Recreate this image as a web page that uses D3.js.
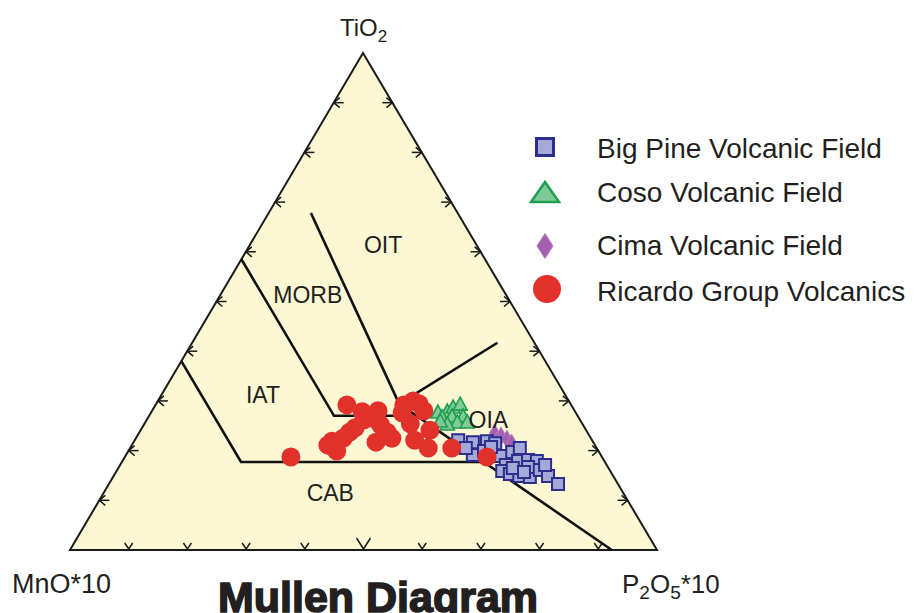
<!DOCTYPE html>
<html>
<head>
<meta charset="utf-8">
<script src="https://cdn.jsdelivr.net/npm/d3@7"></script>
<style>
  html, body { margin: 0; padding: 0; background: #ffffff; }
  svg { display: block; }
  text { font-family: "Liberation Sans", Arial, sans-serif; fill: #231f20; }
</style>
</head>
<body>
<svg id="chart" width="917" height="613"></svg>
<script>
// Mullen (1983) TiO2 – MnO*10 – P2O5*10 discrimination diagram.
// Every composition is [TiO2, MnO*10, P2O5*10] in percent of the ternary sum.

const components = ["TiO2", "MnO*10", "P2O5*10"];

const seriesNames = ["Big Pine Volcanic Field", "Coso Volcanic Field", "Cima Volcanic Field", "Ricardo Group Volcanics"];

const bigPine = [
  [22.1, 22.8, 55.1], [21.7, 20.5, 57.8], [21.9, 18.0, 60.1], [19.1, 21.8, 59.1],
  [19.9, 19.5, 60.6], [21.5, 16.8, 61.7], [18.9, 17.1, 64.0], [19.7, 14.8, 65.5],
  [20.5, 13.1, 66.4], [17.1, 17.2, 65.7], [17.9, 14.7, 67.4], [18.1, 12.9, 69.0],
  [17.9, 11.5, 70.6], [15.9, 18.4, 65.7], [15.3, 17.4, 67.3], [14.9, 16.0, 69.1],
  [14.7, 14.3, 71.0], [16.7, 13.6, 69.7], [16.1, 11.9, 72.0], [14.9, 11.1, 74.0],
  [13.3, 10.2, 76.5], [20.7, 17.9, 61.4], [16.5, 16.3, 67.2], [17.1, 10.5, 72.4],
  [15.7, 14.8, 69.5], [20.5, 22.3, 57.2]
];

const coso = [
  [27.6, 23.5, 48.9], [27.8, 21.8, 50.4], [28.6, 20.4, 51.0], [29.2, 18.9, 51.9],
  [26.6, 23.3, 50.1], [26.8, 21.5, 51.7], [26.8, 19.6, 53.6], [25.6, 21.2, 53.2],
  [25.2, 23.1, 51.7], [25.6, 19.5, 54.9], [25.8, 24.0, 50.2]
];

const cima = [
  [23.5, 15.9, 60.6], [22.9, 15.1, 62.0], [22.3, 14.4, 63.3], [21.5, 14.0, 64.5],
  [21.9, 16.3, 61.8]
];

const ricardo = [
  [18.7, 53.0, 28.3], [29.2, 38.2, 32.6], [27.8, 36.3, 35.9], [28.0, 33.5, 38.5],
  [26.2, 36.8, 37.0], [25.2, 34.5, 40.3], [23.7, 34.1, 42.2], [21.7, 37.0, 41.3],
  [22.5, 33.9, 43.6], [23.7, 40.5, 35.8], [22.5, 42.2, 35.3], [21.9, 44.4, 33.7],
  [19.9, 44.6, 35.5], [21.1, 45.5, 33.4], [29.2, 28.5, 42.3], [30.0, 26.5, 43.5],
  [27.6, 29.6, 42.8], [25.4, 29.3, 45.3], [28.0, 25.7, 46.3], [24.1, 26.6, 49.3],
  [22.1, 30.2, 47.7], [20.5, 28.7, 50.8], [20.5, 24.7, 54.8], [18.7, 19.6, 61.7],
  [26.6, 35.5, 37.9], [24.6, 39.1, 36.3], [29.4, 25.8, 44.8]
];

// Field boundaries, as polylines of [TiO2, MnO*10, P2O5*10]
const boundaries = [
  [[38.0, 62.0, 0.0], [17.7, 62.0, 20.3], [17.7, 20.6, 61.7]],   // IAT / CAB
  [[58.5, 41.5, 0.0], [27.0, 41.5, 31.5], [27.0, 27.4, 45.6]],   // MORB / IAT
  [[67.8, 25.0, 7.2], [29.4, 29.2, 41.4]],                        // OIT / MORB
  [[29.4, 29.2, 41.4], [41.7, 6.3, 52.0]],                        // OIT / OIA
  [[29.4, 29.2, 41.4], [0.0, 7.7, 92.3]]                          // OIA / CAB
];

const fieldLabels = ["OIT", "MORB", "IAT", "CAB", "OIA"];
const fieldLabelPos = [
  [61.4, 15.9, 22.7], [51.3, 33.8, 14.9], [31.2, 51.5, 17.3], [11.5, 49.9, 38.6], [26.2, 15.6, 58.2]
];

const tickSteps = [10, 20, 30, 40, 50, 60, 70, 80, 90];

// ---------------------------------------------------------------
const svg = d3.select("#chart");

// Ternary projection built from linear scales (TiO2 to height, P2O5 to width)
const yT = d3.scaleLinear().domain([0, 100]).range([550, 53]);
const xT = d3.scaleLinear().domain([0, 100]).range([0, 293]);
const xP = d3.scaleLinear().domain([0, 100]).range([70, 657]);

function project(c) {
  const s = c[0] + c[1] + c[2];
  const t = c[0] / s * 100, p = c[2] / s * 100;
  return [xP(p) + xT(t), yT(t)];
}

const apex = project([100, 0, 0]);
const left = project([0, 100, 0]);
const right = project([0, 0, 100]);

const line = d3.line();

// Triangle body
svg.append("path")
  .attr("d", line([apex, left, right]) + "Z")
  .attr("fill", "#fcf8d4")
  .attr("stroke", "#1a1a1a")
  .attr("stroke-width", 2)
  .attr("stroke-linejoin", "miter");

// Edge ticks: chevrons pointing out of the triangle
const tickG = svg.append("g")
  .attr("fill", "none").attr("stroke", "#1a1a1a").attr("stroke-width", 1.5);

tickSteps.forEach(k => {
  // left side (MnO*10 – TiO2)
  const [lx, ly] = project([k, 100 - k, 0]);
  tickG.append("path").attr("d", line([[lx + 6, ly - 5], [lx, ly], [lx + 6, ly + 5]]));
  tickG.append("path").attr("d", line([[lx, ly], [lx + 10, ly]]));
  // right side (TiO2 – P2O5*10)
  const [rx, ry] = project([k, 0, 100 - k]);
  tickG.append("path").attr("d", line([[rx - 6, ry - 5], [rx, ry], [rx - 6, ry + 5]]));
  tickG.append("path").attr("d", line([[rx, ry], [rx - 10, ry]]));
  // base (MnO*10 – P2O5*10)
  const [bx, by] = project([0, 100 - k, k]);
  const big = k === 50;
  const w = big ? 7 : 4, h = big ? 12 : 7;
  tickG.append("path").attr("d", line([[bx - w, by - h], [bx, by - 1], [bx + w, by - h]]));
});

// Field boundaries
svg.append("g").selectAll("path")
  .data(boundaries)
  .join("path")
  .attr("d", d => line(d.map(project)))
  .attr("fill", "none")
  .attr("stroke", "#111111")
  .attr("stroke-width", 2.6)
  .attr("stroke-linejoin", "miter");

// Marker shapes
const shapes = {
  square: (s) => `M${-s / 2},${-s / 2}H${s / 2}V${s / 2}H${-s / 2}Z`,
  triangle: (w, h) => `M0,${-h * 0.6}L${w / 2},${h * 0.4}L${-w / 2},${h * 0.4}Z`,
  diamond: (w, h) => `M0,${-h / 2}L${w / 2},0L0,${h / 2}L${-w / 2},0Z`
};

const styles = {
  square: { fill: "#a4a9d8", stroke: "#2b2e8c", sw: 2 },
  triangle: { fill: "#7fcb98", stroke: "#1f9e50", sw: 1.6 },
  diamond: { fill: "#a55fb0", stroke: "#b27cbf", sw: 1 },
  circle: { fill: "#e2312b" }
};

const marks = svg.append("g");

marks.append("g").selectAll("path")
  .data(cima).join("path")
  .attr("transform", d => `translate(${project(d)})`)
  .attr("d", shapes.diamond(10, 18))
  .attr("fill", styles.diamond.fill).attr("stroke", styles.diamond.stroke).attr("stroke-width", styles.diamond.sw);

marks.append("g").selectAll("path")
  .data(bigPine).join("path")
  .attr("transform", d => `translate(${project(d)})`)
  .attr("d", shapes.square(12))
  .attr("fill", styles.square.fill).attr("stroke", styles.square.stroke).attr("stroke-width", styles.square.sw);

marks.append("g").selectAll("path")
  .data(coso).join("path")
  .attr("transform", d => `translate(${project(d)})`)
  .attr("d", shapes.triangle(14, 13))
  .attr("fill", styles.triangle.fill).attr("stroke", styles.triangle.stroke).attr("stroke-width", styles.triangle.sw);

marks.append("g").selectAll("circle")
  .data(ricardo).join("circle")
  .attr("cx", d => project(d)[0])
  .attr("cy", d => project(d)[1])
  .attr("r", 9.5)
  .attr("fill", styles.circle.fill);

// Field names
svg.append("g").selectAll("text")
  .data(fieldLabels).join("text")
  .attr("x", (d, i) => project(fieldLabelPos[i])[0])
  .attr("y", (d, i) => project(fieldLabelPos[i])[1])
  .attr("text-anchor", "middle")
  .attr("dominant-baseline", "central")
  .attr("font-size", 23)
  .text(d => d);

// Corner labels
const tio2 = svg.append("text").attr("x", 340).attr("y", 36).attr("font-size", 24);
tio2.append("tspan").text("TiO");
tio2.append("tspan").attr("font-size", 17).attr("dy", 6).text("2");

svg.append("text").attr("x", 12).attr("y", 593).attr("font-size", 27).text(components[1]);

const p2o5 = svg.append("text").attr("x", 622).attr("y", 593).attr("font-size", 26);
p2o5.append("tspan").text("P");
p2o5.append("tspan").attr("font-size", 19).attr("dy", 6).text("2");
p2o5.append("tspan").attr("dy", -6).text("O");
p2o5.append("tspan").attr("font-size", 19).attr("dy", 6).text("5");
p2o5.append("tspan").attr("dy", -6).text("*10");

// Title (runs to the bottom edge of the figure)
svg.append("text")
  .attr("x", 378).attr("y", 612)
  .attr("text-anchor", "middle")
  .attr("font-size", 43)
  .attr("font-weight", "bold")
  .attr("stroke", "#231f20").attr("stroke-width", 1.6)
  .text("Mullen Diagram");

// Legend
const legendRows = [
  { cy: 147, ty: 158, kind: "square" },
  { cy: 194, ty: 202, kind: "triangle" },
  { cy: 246, ty: 255, kind: "diamond" },
  { cy: 289, ty: 301, kind: "circle" }
];
const legend = svg.append("g");
legendRows.forEach((r, i) => {
  const g = legend.append("g").attr("transform", `translate(545,${r.cy})`);
  const st = styles[r.kind];
  if (r.kind === "circle") {
    g.append("circle").attr("r", 14).attr("cx", 2).attr("fill", st.fill);
  } else {
    const d = r.kind === "square" ? shapes.square(17)
      : r.kind === "triangle" ? shapes.triangle(28, 20)
      : shapes.diamond(16, 25);
    g.append("path").attr("d", d)
      .attr("fill", st.fill).attr("stroke", st.stroke)
      .attr("stroke-width", r.kind === "square" ? 3 : r.kind === "triangle" ? 2.5 : 1);
  }
  legend.append("text")
    .attr("x", 597).attr("y", r.ty)
    .attr("font-size", 28)
    .text(seriesNames[i]);
});
</script>
</body>
</html>
